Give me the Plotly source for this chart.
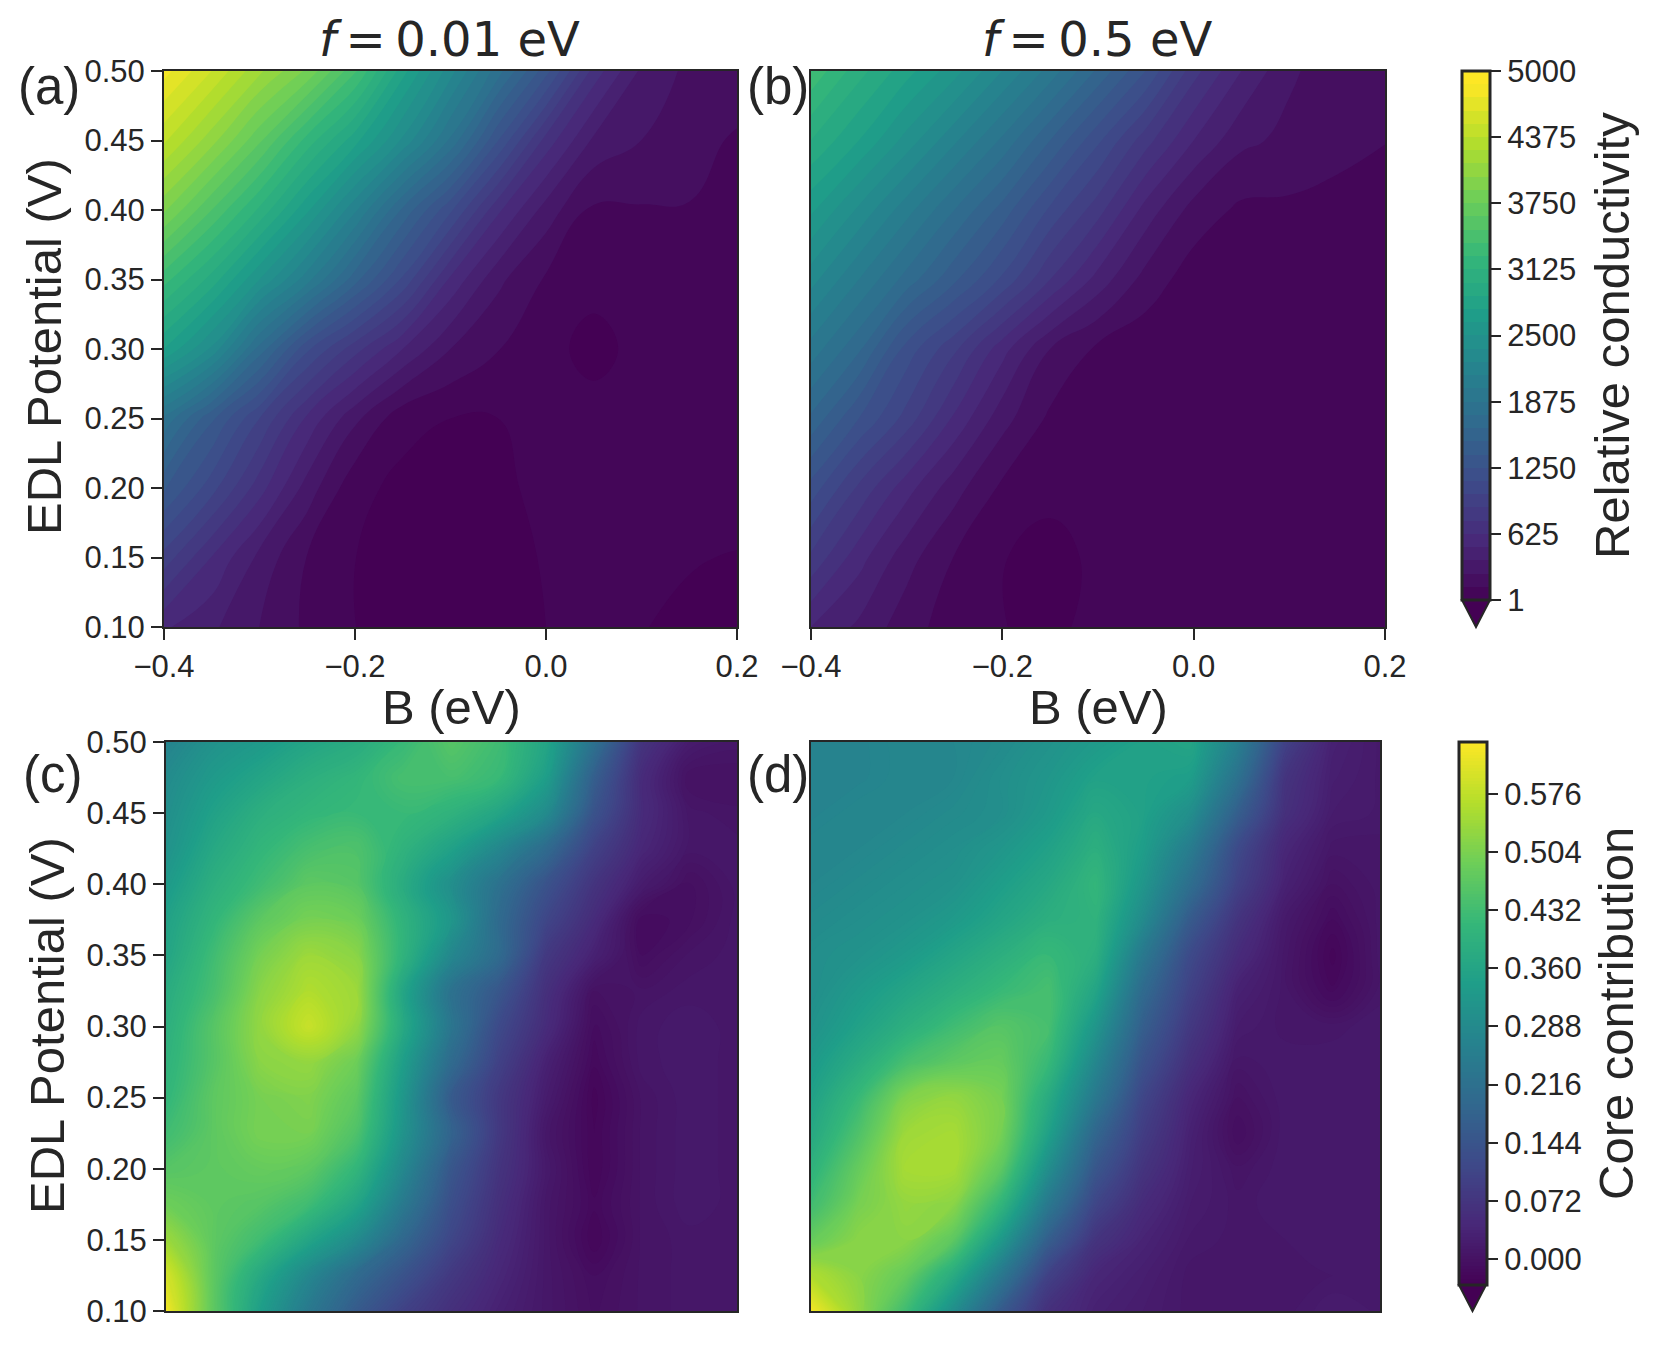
import plotly.graph_objects as go

W, H = 1661, 1350
INK = "#262626"

# grille commune
b_vals = [-0.40, -0.35, -0.30, -0.25, -0.20, -0.15, -0.10, -0.05, 0.00, 0.05, 0.10, 0.15, 0.20]
edl_coarse = [0.10, 0.15, 0.20, 0.25, 0.30, 0.35, 0.40, 0.45, 0.50]
edl_fine = [0.100, 0.125, 0.150, 0.175, 0.200, 0.225, 0.250, 0.275, 0.300,
            0.325, 0.350, 0.375, 0.400, 0.425, 0.450, 0.475, 0.500]

# conductivité relative, f = 0.01 eV (lignes de EDL 0.10 à 0.50)
cond_a = [
    [520, 400, 250, 100, 2, -40, -40, -40, 1, 50, 5, -20, -30],
    [950, 620, 340, 120, 2, -40, -40, -30, 8, 50, 50, 8, -5],
    [1400, 1050, 680, 320, 35, -30, -40, -30, 40, 50, 50, 20, 50],
    [1850, 1400, 1000, 600, 280, 40, 1, 1, 50, 50, 50, 50, 40],
    [2750, 2350, 1700, 1150, 800, 500, 250, 130, 40, -40, 40, 40, 30],
    [3300, 2950, 2500, 2050, 1550, 1100, 600, 280, 110, 40, 40, 40, 30],
    [3900, 3500, 3100, 2650, 2150, 1600, 1150, 650, 320, 100, 115, 120, 70],
    [4400, 4050, 3650, 3200, 2800, 2350, 1850, 1250, 700, 350, 250, 170, 110],
    [4800, 4500, 4150, 3850, 3400, 2800, 2300, 1800, 1300, 700, 350, 220, 200],
]

# conductivité relative, f = 0.5 eV
cond_b = [
    [500, 350, 180, 60, 5, -30, 40, 40, 40, 40, 40, 40, 40],
    [850, 550, 300, 120, 5, -30, 20, 40, 40, 40, 40, 40, 40],
    [1200, 850, 550, 300, 100, 25, 40, 40, 40, 40, 40, 40, 40],
    [1600, 1250, 950, 600, 300, 100, 40, 40, 40, 40, 40, 40, 40],
    [1950, 1650, 1200, 900, 550, 250, 100, 40, 40, 40, 40, 40, 40],
    [2300, 2000, 1700, 1400, 1100, 750, 450, 200, 60, 50, 50, 50, 50],
    [2650, 2350, 2050, 1750, 1450, 1100, 800, 450, 200, 100, 100, 80, 60],
    [3000, 2750, 2450, 2150, 1850, 1500, 1150, 800, 500, 280, 220, 170, 130],
    [3350, 3050, 2800, 2550, 2250, 1950, 1600, 1250, 800, 500, 270, 190, 150],
]

# contribution du coeur, f = 0.01 eV
core_c = [
    [.63, .47, .34, .24, .16, .10, .06, .03, .01, -.005, .005, .01, .01],
    [.60, .47, .37, .28, .20, .14, .08, .04, .01, -.008, .005, .01, .01],
    [.54, .47, .43, .36, .29, .19, .11, .05, .01, -.02, .005, .01, .01],
    [.49, .47, .46, .43, .36, .24, .13, .06, .01, -.015, .005, .015, .01],
    [.46, .47, .48, .47, .41, .28, .15, .07, .015, -.02, .005, .015, .01],
    [.43, .47, .50, .50, .45, .31, .18, .08, .01, -.02, .005, .015, .01],
    [.41, .47, .50, .51, .47, .32, .16, .08, .02, -.022, .005, .015, .01],
    [.40, .46, .52, .53, .49, .34, .20, .10, .03, -.015, .01, .015, .01],
    [.39, .46, .53, .585, .53, .37, .23, .12, .05, -.01, .01, .015, .01],
    [.38, .44, .52, .56, .54, .36, .22, .15, .06, .0, .005, .01, .01],
    [.36, .43, .50, .54, .52, .40, .28, .20, .08, .03, -.008, .005, .01],
    [.35, .41, .47, .50, .49, .40, .32, .20, .11, .05, -.012, -.005, .01],
    [.33, .39, .43, .47, .46, .38, .30, .22, .14, .07, .02, -.005, .01],
    [.31, .37, .41, .44, .45, .40, .35, .28, .20, .10, .04, .01, .01],
    [.30, .35, .39, .41, .42, .42, .40, .36, .29, .14, .05, .01, .005],
    [.29, .33, .36, .39, .41, .44, .44, .42, .34, .17, .05, .0, .0],
    [.27, .31, .33, .36, .38, .42, .46, .43, .36, .22, .07, .02, .01],
]

# contribution du coeur, f = 0.5 eV
core_d = [
    [.63, .53, .43, .30, .16, .06, .03, .02, .01, .01, .01, .02, .015],
    [.56, .52, .48, .38, .24, .10, .04, .025, .01, .01, .01, .012, .012],
    [.48, .52, .52, .47, .33, .17, .07, .035, .015, .01, .012, .015, .015],
    [.43, .50, .53, .52, .41, .24, .11, .05, .02, .01, .015, .015, .015],
    [.40, .48, .55, .55, .47, .30, .15, .07, .025, .005, .015, .015, .015],
    [.37, .45, .54, .55, .50, .35, .19, .09, .03, -.008, .015, .015, .015],
    [.35, .42, .51, .53, .50, .38, .24, .11, .04, .0, .015, .015, .015],
    [.33, .38, .44, .47, .48, .42, .28, .14, .06, .01, .015, .015, .015],
    [.31, .35, .39, .43, .46, .44, .32, .17, .08, .02, .01, .01, .015],
    [.30, .33, .36, .39, .42, .44, .36, .20, .10, .03, .01, -.015, .01],
    [.30, .31, .33, .36, .39, .42, .39, .24, .12, .05, .01, -.022, .01],
    [.29, .30, .31, .33, .36, .39, .40, .29, .16, .07, .015, -.012, .01],
    [.28, .29, .30, .31, .34, .37, .41, .32, .21, .10, .03, .0, .01],
    [.28, .28, .29, .30, .32, .35, .39, .34, .25, .12, .04, .01, .01],
    [.27, .28, .28, .29, .30, .33, .37, .35, .30, .17, .06, .02, .015],
    [.27, .27, .28, .28, .30, .32, .35, .35, .34, .22, .07, .025, .015],
    [.27, .27, .28, .28, .29, .31, .33, .35, .36, .26, .10, .03, .015],
]

b_ticks = [-0.4, -0.2, 0.0, 0.2]
edl_ticks = [0.10, 0.15, 0.20, 0.25, 0.30, 0.35, 0.40, 0.45, 0.50]
cond_ticks = [1, 625, 1250, 1875, 2500, 3125, 3750, 4375, 5000]
core_ticks = [0.000, 0.072, 0.144, 0.216, 0.288, 0.360, 0.432, 0.504, 0.576]

# boites des panneaux en pixels : gauche, droite, haut, bas
boxes = {
    "a": (164, 737, 71, 627),
    "b": (811, 1385, 71, 627),
    "c": (166, 737, 742, 1311),
    "d": (811, 1380, 742, 1311),
}


def px(x):
    return x / W


def py(y):
    return 1 - y / H


fig = go.Figure()


def add_panel(idx, key, y_vals, z, zmin, zmax, step, cbar=None):
    suffix = "" if idx == 1 else str(idx)
    fig.add_trace(go.Contour(
        x=b_vals,
        y=y_vals,
        z=z,
        xaxis="x" + suffix,
        yaxis="y" + suffix,
        colorscale="Viridis",
        zmin=zmin,
        zmax=zmax,
        autocontour=False,
        contours=dict(start=zmin, end=zmax, size=step, coloring="fill", showlines=False),
        line=dict(width=0, smoothing=1.3),
        showscale=cbar is not None,
        colorbar=cbar,
        hoverinfo="skip",
    ))
    left, right, top, bottom = boxes[key]
    fig.update_layout({
        "xaxis" + suffix: dict(
            domain=[px(left), px(right)], range=[-0.4, 0.2], anchor="y" + suffix,
            tickvals=b_ticks if idx <= 2 else [], tickformat=".1f",
            ticks="outside" if idx <= 2 else "", ticklen=11, tickwidth=2, tickcolor=INK,
            showticklabels=idx <= 2, automargin=False,
            showline=True, mirror=True, linecolor=INK, linewidth=2, showgrid=False, zeroline=False,
        ),
        "yaxis" + suffix: dict(
            domain=[py(bottom), py(top)], range=[0.10, 0.50], anchor="x" + suffix,
            tickvals=edl_ticks if key in "ac" else [], tickformat=".2f",
            ticks="outside" if key in "ac" else "", ticklen=11, tickwidth=2, tickcolor=INK,
            showticklabels=key in "ac", automargin=False,
            showline=True, mirror=True, linecolor=INK, linewidth=2, showgrid=False, zeroline=False,
        ),
    })


def make_cbar(x, top, bottom, ticks, fmt):
    return dict(
        x=px(x), xanchor="left", xref="paper",
        y=py(top), yanchor="top", yref="paper",
        len=bottom - top, lenmode="pixels",
        thickness=28, thicknessmode="pixels",
        xpad=0, ypad=0,
        tickvals=ticks, tickformat=fmt,
        ticks="outside", ticklen=10, tickwidth=2, tickcolor=INK,
        outlinecolor=INK, outlinewidth=3,
        tickfont=dict(family="Liberation Sans", size=31, color=INK),
    )


add_panel(1, "a", edl_coarse, cond_a, 1, 5000, 125, make_cbar(1462, 71, 600, cond_ticks, "d"))
add_panel(2, "b", edl_coarse, cond_b, 1, 5000, 125)
add_panel(3, "c", edl_fine, core_c, -0.032, 0.64, 0.004, make_cbar(1459, 742, 1285, core_ticks, ".3f"))
add_panel(4, "d", edl_fine, core_d, -0.032, 0.64, 0.004)


def label(text, x, y, size, angle=0, family="Liberation Sans"):
    fig.add_annotation(
        text=text, x=px(x), y=py(y), xref="paper", yref="paper",
        showarrow=False, textangle=angle, xanchor="center", yanchor="middle",
        font=dict(family=family, size=size, color=INK),
    )


label("<i>f</i>\u2009=\u20090.01 eV", 450, 39, 48, family="DejaVu Sans")
label("<i>f</i>\u2009=\u20090.5 eV", 1097, 39, 48, family="DejaVu Sans")
label("(a)", 49, 87, 51)
label("(b)", 778, 87, 51)
label("(c)", 52, 774, 51)
label("(d)", 778, 774, 51)
label("B (eV)", 451, 707, 49)
label("B (eV)", 1098, 707, 49)
label("EDL Potential (V)", 44, 347, 49, angle=-90)
label("EDL Potential (V)", 47, 1026, 49, angle=-90)
label("Relative conductivity", 1612, 336, 49, angle=-90)
label("Core contribution", 1616, 1014, 49, angle=-90)

# pointes d'extension des barres de couleur
for x0, x1, y0, y1 in [(1462, 1490, 600, 627), (1459, 1486, 1285, 1311)]:
    fig.add_shape(
        type="path", xref="paper", yref="paper",
        path=f"M {px(x0)} {py(y0)} L {px(x1)} {py(y0)} L {px((x0 + x1) / 2)} {py(y1)} Z",
        fillcolor="#440154", line=dict(color=INK, width=2),
    )

fig.update_layout(
    width=W,
    height=H,
    margin=dict(l=0, r=0, t=0, b=0, autoexpand=False),
    paper_bgcolor="white",
    plot_bgcolor="white",
    font=dict(family="Liberation Sans", size=31, color=INK),
    showlegend=False,
)

fig.write_html("out.html", config=dict(displayModeBar=False),
               post_script="document.body.style.margin='0';")
